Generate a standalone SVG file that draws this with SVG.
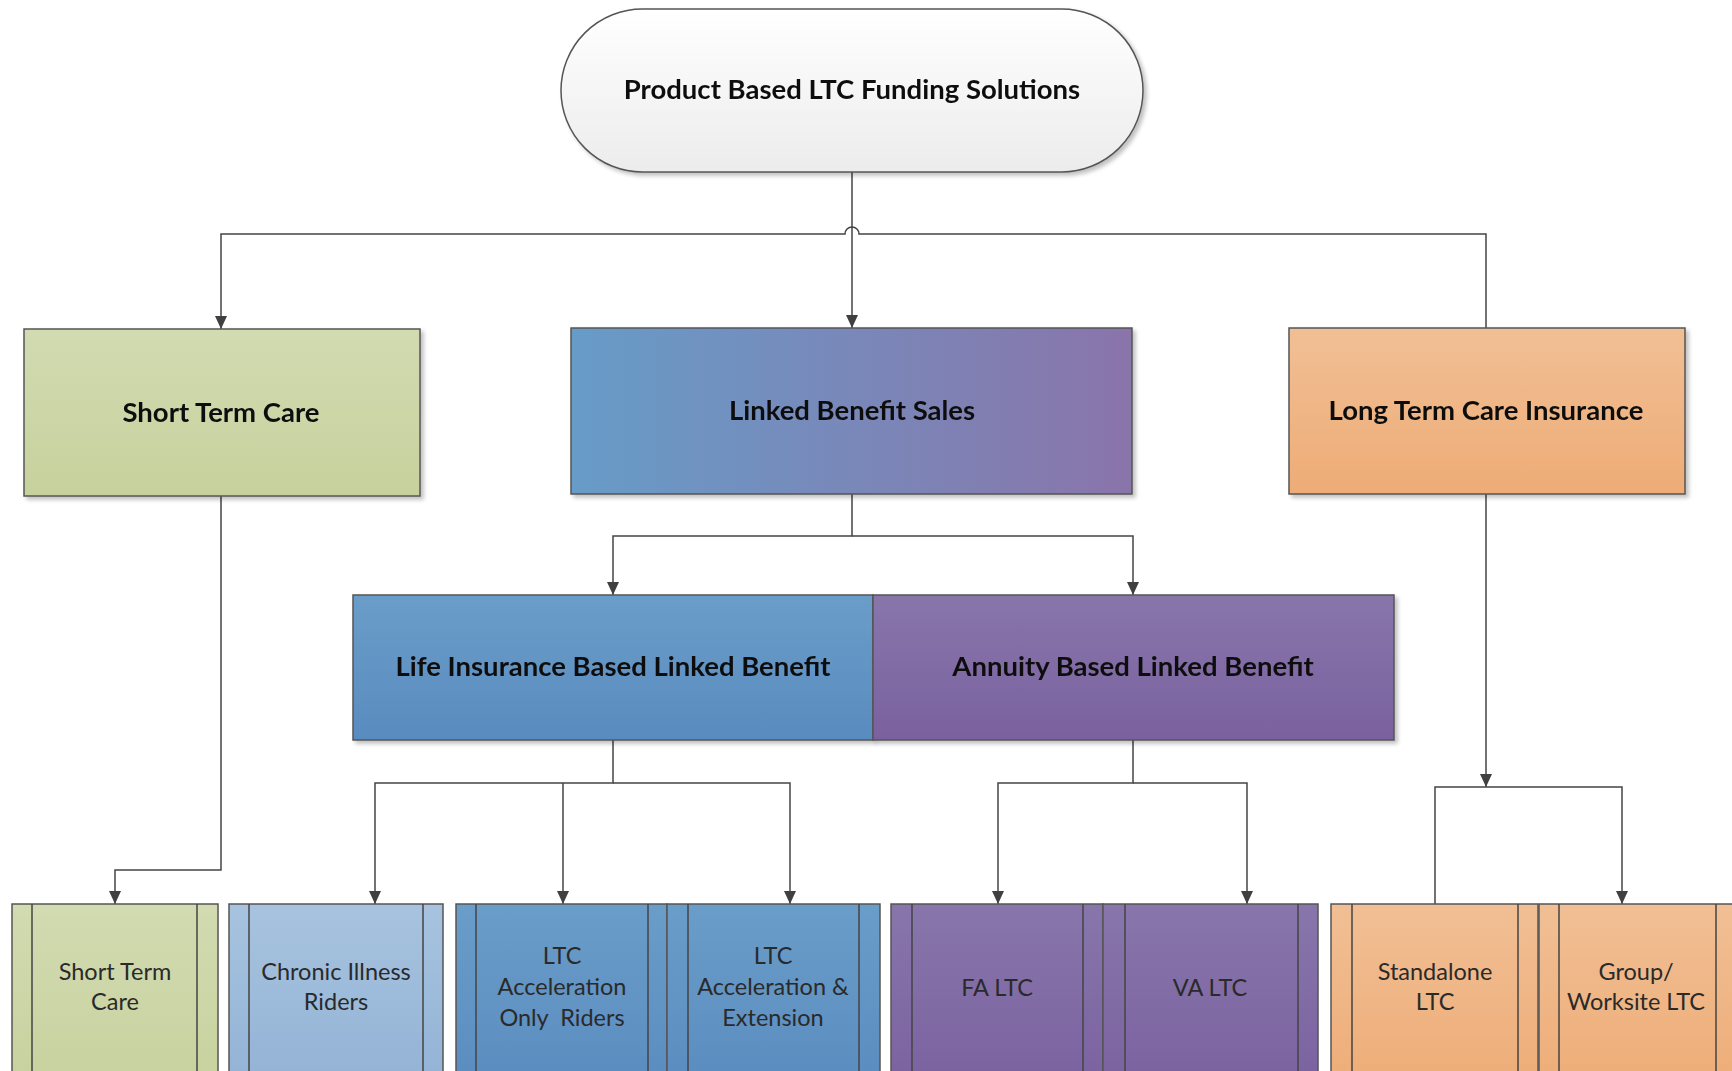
<svg xmlns="http://www.w3.org/2000/svg" width="1732" height="1071" viewBox="0 0 1732 1071">
<defs>
<linearGradient id="gTerm" x1="0" y1="0" x2="0" y2="1"><stop offset="0" stop-color="#ffffff"/><stop offset="1" stop-color="#ececec"/></linearGradient>
<linearGradient id="gGreen" x1="0" y1="0" x2="0" y2="1"><stop offset="0" stop-color="#d2dbb1"/><stop offset="1" stop-color="#c7d19d"/></linearGradient>
<linearGradient id="gOrange" x1="0" y1="0" x2="0" y2="1"><stop offset="0" stop-color="#f1bf95"/><stop offset="1" stop-color="#eeac76"/></linearGradient>
<linearGradient id="gLinked" x1="0" y1="0" x2="1" y2="0"><stop offset="0" stop-color="#679cc8"/><stop offset="1" stop-color="#8a74aa"/></linearGradient>
<linearGradient id="gBlue" x1="0" y1="0" x2="0" y2="1"><stop offset="0" stop-color="#6b9dc9"/><stop offset="1" stop-color="#598bbf"/></linearGradient>
<linearGradient id="gPurple" x1="0" y1="0" x2="0" y2="1"><stop offset="0" stop-color="#8876ab"/><stop offset="1" stop-color="#7a619f"/></linearGradient>
<linearGradient id="gLightBlue" x1="0" y1="0" x2="0" y2="1"><stop offset="0" stop-color="#a7c3df"/><stop offset="1" stop-color="#92b2d5"/></linearGradient>
<filter id="sh" x="-5%" y="-5%" width="115%" height="115%">
<feGaussianBlur in="SourceAlpha" stdDeviation="2"/><feOffset dx="3" dy="3" result="b"/>
<feComponentTransfer><feFuncA type="linear" slope="0.25"/></feComponentTransfer>
<feMerge><feMergeNode/><feMergeNode in="SourceGraphic"/></feMerge>
</filter>
<marker id="arr" markerWidth="14" markerHeight="14" viewBox="0 0 14 14" refX="13" refY="7" orient="auto" markerUnits="userSpaceOnUse">
<path d="M0,1 L13,7 L0,13 Z" fill="#404040"/>
</marker>
</defs>
<style>
.box{stroke:#555;stroke-width:1.5}
.in{stroke:#444;stroke-width:1.5;fill:none}
.t1{font-family:Lato,"Liberation Sans",sans-serif;font-weight:bold;font-size:27.5px;fill:#111;text-anchor:middle}
.t2{font-family:Lato,"Liberation Sans",sans-serif;font-size:23.5px;fill:#2a2a2a;text-anchor:middle}
.c{stroke:#444;stroke-width:1.5;fill:none}
</style>
<rect width="1732" height="1071" fill="#fff"/>

<g id="connectors">
<path class="c" d="M852,172 V328" marker-end="url(#arr)"/>
<path class="c" d="M1486,328 V234 H859 A7,7 0 0 0 845,234 H221 V329" marker-end="url(#arr)"/>
<path class="c" d="M852,494 V536 H613 V595" marker-end="url(#arr)"/>
<path class="c" d="M852,536 H1133 V595" marker-end="url(#arr)"/>
<path class="c" d="M613,740 V783 H375 V904" marker-end="url(#arr)"/>
<path class="c" d="M563,783 V904" marker-end="url(#arr)"/>
<path class="c" d="M613,783 H790 V904" marker-end="url(#arr)"/>
<path class="c" d="M1133,740 V783 H998 V904" marker-end="url(#arr)"/>
<path class="c" d="M1133,783 H1247 V904" marker-end="url(#arr)"/>
<path class="c" d="M221,496 V870 H115 V904" marker-end="url(#arr)"/>
<path class="c" d="M1486,494 V787" marker-end="url(#arr)"/>
<path class="c" d="M1435,904 V787 H1622 V904" marker-end="url(#arr)"/>
</g>

<g id="n-root" filter="url(#sh)">
<rect class="box" x="561" y="9" width="582" height="163" rx="81.5" fill="url(#gTerm)"/>
<text class="t1" x="852" y="99">Product Based LTC Funding Solutions</text>
</g>

<g id="n-stc" filter="url(#sh)">
<rect class="box" x="24" y="329" width="396" height="167" fill="url(#gGreen)"/>
<text class="t1" x="221" y="422">Short Term Care</text>
</g>

<g id="n-linked" filter="url(#sh)">
<rect class="box" x="571" y="328" width="561" height="166" fill="url(#gLinked)"/>
<text class="t1" x="852" y="420">Linked Benefit Sales</text>
</g>

<g id="n-ltci" filter="url(#sh)">
<rect class="box" x="1289" y="328" width="396" height="166" fill="url(#gOrange)"/>
<text class="t1" x="1486" y="420">Long Term Care Insurance</text>
</g>

<g id="n-life" filter="url(#sh)">
<rect class="box" x="353" y="595" width="520" height="145" fill="url(#gBlue)"/>
<text class="t1" x="613" y="676">Life Insurance Based Linked Benefit</text>
</g>

<g id="n-annuity" filter="url(#sh)">
<rect class="box" x="873" y="595" width="521" height="145" fill="url(#gPurple)"/>
<text class="t1" x="1133" y="676">Annuity Based Linked Benefit</text>
</g>

<g id="n-stc2">
<rect class="box" x="12" y="904" width="206" height="190" fill="url(#gGreen)"/>
<path class="in" d="M32,904 V1094 M197,904 V1094"/>
<text class="t2" x="115" y="980">Short Term</text>
<text class="t2" x="115" y="1010">Care</text>
</g>

<g id="n-chronic">
<rect class="box" x="229" y="904" width="214" height="190" fill="url(#gLightBlue)"/>
<path class="in" d="M249,904 V1094 M423,904 V1094"/>
<text class="t2" x="336" y="980">Chronic Illness</text>
<text class="t2" x="336" y="1010">Riders</text>
</g>

<g id="n-accel">
<rect class="box" x="456" y="904" width="211" height="190" fill="url(#gBlue)"/>
<path class="in" d="M476,904 V1094 M648,904 V1094"/>
<text class="t2" x="562" y="964">LTC</text>
<text class="t2" x="562" y="995">Acceleration</text>
<text class="t2" x="562" y="1026" xml:space="preserve">Only  Riders</text>
</g>

<g id="n-accelext">
<rect class="box" x="667" y="904" width="213" height="190" fill="url(#gBlue)"/>
<path class="in" d="M688,904 V1094 M859,904 V1094"/>
<text class="t2" x="773" y="964">LTC</text>
<text class="t2" x="773" y="995">Acceleration &amp;</text>
<text class="t2" x="773" y="1026">Extension</text>
</g>

<g id="n-fa">
<rect class="box" x="891" y="904" width="212" height="190" fill="url(#gPurple)"/>
<path class="in" d="M912,904 V1094 M1083,904 V1094"/>
<text class="t2" x="997" y="996">FA LTC</text>
</g>

<g id="n-va">
<rect class="box" x="1103" y="904" width="215" height="190" fill="url(#gPurple)"/>
<path class="in" d="M1125,904 V1094 M1298,904 V1094"/>
<text class="t2" x="1210" y="996">VA LTC</text>
</g>

<g id="n-standalone">
<rect class="box" x="1331" y="904" width="207" height="190" fill="url(#gOrange)"/>
<path class="in" d="M1352,904 V1094 M1518,904 V1094"/>
<text class="t2" x="1435" y="980">Standalone</text>
<text class="t2" x="1435" y="1010">LTC</text>
</g>

<g id="n-group">
<rect class="box" x="1539" y="904" width="198" height="190" fill="url(#gOrange)"/>
<path class="in" d="M1559,904 V1094 M1716,904 V1094"/>
<text class="t2" x="1636" y="980">Group/</text>
<text class="t2" x="1636" y="1010">Worksite LTC</text>
</g>
</svg>
